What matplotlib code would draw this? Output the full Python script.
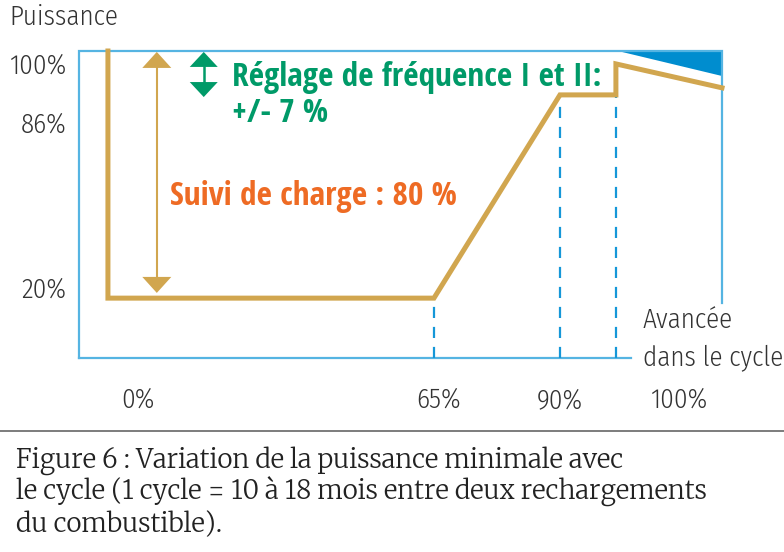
import matplotlib
matplotlib.use('Agg')
import matplotlib.pyplot as plt
from matplotlib.font_manager import FontProperties
from matplotlib.patches import Polygon

# schematic units: x = 0..100 across the frame, y = 0..100 (power %)
cycle_x = [4.5, 4.5, 55.2, 74.8, 83.5, 83.5, 100.0]
power_y = [100.0, 19.5, 19.5, 85.7, 85.7, 95.8, 88.0]
dash_x = [55.2, 74.8, 83.5]
dash_top = [19.5, 85.7, 85.7]
wedge_x = [83.8, 100.0, 100.0]
wedge_y = [100.0, 100.0, 91.9]

ytick_labels = ['100%', '86%', '20%']
ytick_px = [74, 133, 298]          # baselines in pixels from the top
xtick_labels = ['0%', '65%', '90%', '100%']
xtick_px = [138, 439, 560, 679]

GOLD = '#d1a64f'
GREEN = '#009a68'
ORANGE = '#ee6b24'
FRAME = '#55b4e2'
DASH = '#1597d8'
WEDGE = '#008dcf'
GREY = '#333333'

W, H = 784, 552
AX_L, AX_T, AX_W, AX_H = 79, 51, 643, 307
LIGHT_FAM = ['Fira Sans Condensed', 'Open Sans', 'DejaVu Sans']
light = FontProperties(family=LIGHT_FAM, weight=300, stretch='condensed', size=19.5)
light_tick = FontProperties(family=LIGHT_FAM, weight=300, stretch='condensed', size=19.5)
bold = FontProperties(family=['Open Sans Condensed', 'DejaVu Sans'], weight='bold', stretch='condensed', size=24)
serif = FontProperties(family=['Merriweather', 'Libre Baskerville', 'TeX Gyre Schola', 'DejaVu Serif'],
                       weight=300, size=14)


def px(x, y):
    return x / W, 1 - y / H


def double_arrow(ax, x, y_lo, y_hi, head_len, head_half, color, lw):
    # head sizes in pixels, converted to frame units
    sx, sy = 100 / AX_W, 100 / AX_H
    hl, hw = head_len * sy, head_half * sx
    ax.plot([x, x], [y_lo + hl, y_hi - hl], color=color, lw=lw, clip_on=False)
    ax.add_patch(Polygon([(x, y_hi), (x - hw, y_hi - hl), (x + hw, y_hi - hl)], color=color, lw=0, clip_on=False))
    ax.add_patch(Polygon([(x, y_lo), (x - hw, y_lo + hl), (x + hw, y_lo + hl)], color=color, lw=0, clip_on=False))


fig = plt.figure(figsize=(W / 100, H / 100), dpi=100)
ax = fig.add_axes([AX_L / W, 1 - (AX_T + AX_H) / H, AX_W / W, AX_H / H])
ax.set_xlim(0, 100)
ax.set_ylim(0, 100)
ax.axis('off')

# open frame
ax.plot([0, 0, 100, 100], [0, 100, 100, 17.9], color=FRAME, lw=1.6, clip_on=False, solid_joinstyle='miter')
ax.plot([0, 85.8], [0, 0], color=FRAME, lw=1.6, clip_on=False)

ax.add_patch(Polygon(list(zip(wedge_x, wedge_y)), closed=True, color=WEDGE, lw=0, clip_on=False))

for x, top in zip(dash_x, dash_top):
    ax.plot([x, x], [0, top], color=DASH, lw=1.6, dashes=(5, 4), clip_on=False)

ax.plot(cycle_x, power_y, color=GOLD, lw=3.6, solid_joinstyle='miter', clip_on=False)

double_arrow(ax, 12.1, 21.2, 99.7, 16, 14.5, GOLD, 1.5)
double_arrow(ax, 19.4, 85.0, 99.7, 15, 14, GREEN, 1.8)

fig.text(*px(232, 86), 'Réglage de fréquence I et II:', color=GREEN, fontproperties=bold, va='baseline')
fig.text(*px(232, 122), '+/- 7 %', color=GREEN, fontproperties=bold, va='baseline')
fig.text(*px(170, 205), 'Suivi de charge : 80 %', color=ORANGE, fontproperties=bold, va='baseline')

fig.text(*px(9, 25), 'Puissance', color=GREY, fontproperties=light, va='baseline')
for lab, y in zip(ytick_labels, ytick_px):
    fig.text(*px(66, y), lab, color=GREY, fontproperties=light_tick, ha='right', va='baseline')
for lab, x in zip(xtick_labels, xtick_px):
    fig.text(*px(x, 408), lab, color=GREY, fontproperties=light_tick, ha='center', va='baseline')
fig.text(*px(643, 328), 'Avancée', color=GREY, fontproperties=light_tick, va='baseline')
fig.text(*px(643, 365), 'dans le cycle', color=GREY, fontproperties=light_tick, va='baseline')

# caption, sized so the first line spans the same width as in the original
fig.add_artist(plt.Line2D([0, 1], [1 - 431 / H] * 2, color='#666666', lw=1.2))
caption = ['Figure 6 : Variation de la puissance minimale avec',
           'le cycle (1 cycle = 10 à 18 mois entre deux rechargements',
           'du combustible).']
cap_texts = [fig.text(*px(16, 468 + 32 * i), line, color='#222222', fontproperties=serif, va='baseline')
             for i, line in enumerate(caption)]
renderer = fig.canvas.get_renderer()
scale = 607 / cap_texts[0].get_window_extent(renderer).width
for t in cap_texts:
    t.set_fontsize(14 * scale)

fig.savefig('out.png', dpi=100)
